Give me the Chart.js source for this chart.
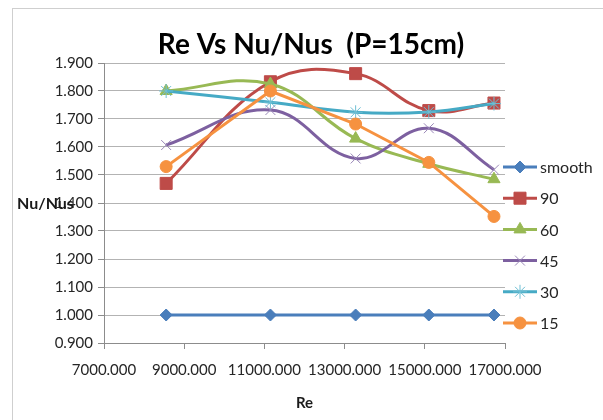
<!DOCTYPE html>
<html>
<head>
<meta charset="utf-8">
<script src="https://cdn.jsdelivr.net/npm/chart.js@4/dist/chart.umd.min.js"></script>
<style>
  html, body { margin: 0; padding: 0; background: #ffffff; }
  #wrap { width: 603px; height: 420px; position: relative; }
</style>
</head>
<body>
<div id="wrap"><canvas id="c" width="603" height="420"></canvas></div>
<script>
// Reynolds numbers of the five test runs
const reynolds = [8550, 11150, 13275, 15100, 16725];

// Nu/Nus ratio for each rib angle (P = 15 cm)
const smooth = [1.000, 1.000, 1.000, 1.000, 1.000];
const deg90  = [1.470, 1.833, 1.862, 1.730, 1.757];
const deg60  = [1.800, 1.825, 1.630, 1.540, 1.485];
const deg45  = [1.607, 1.732, 1.559, 1.667, 1.519];
const deg30  = [1.800, 1.760, 1.724, 1.725, 1.755];
const deg15  = [1.530, 1.800, 1.682, 1.545, 1.352];

// Axis tick values
const xTicks = [7000, 9000, 11000, 13000, 15000, 17000];
const yTicks = [0.9, 1.0, 1.1, 1.2, 1.3, 1.4, 1.5, 1.6, 1.7, 1.8, 1.9];

const TITLE = 'Re Vs Nu/Nus  (P=15cm)';
const FONT = "Lato, 'Open Sans', sans-serif";

function pts(values) {
  return reynolds.map((x, i) => ({ x: x, y: values[i] }));
}

function series(label, values, color, style, radius, tension, order, extra) {
  return Object.assign({
    label: label,
    data: pts(values),
    borderColor: color,
    backgroundColor: color,
    pointBackgroundColor: color,
    pointBorderColor: color,
    pointStyle: style,
    pointRadius: radius,
    pointHoverRadius: radius,
    pointBorderWidth: 1,
    borderWidth: 3,
    tension: tension,
    order: order,
    fill: false
  }, extra || {});
}

const datasets = [
  series('smooth', smooth, '#4A7EBB', 'rectRot', 6, 0, 5),
  series('90', deg90, '#BE4B48', 'rect', 8.5, 0.4, 4),
  series('60', deg60, '#98B954', 'triangle', 7, 0.4, 3),
  series('45', deg45, '#7D60A0', 'crossRot', 7, 0.4, 2, { pointBorderColor: '#9a88b8' }),
  series('30', deg30, '#46AAC5', 'star', 7, 0.4, 1, { pointBorderColor: '#6fbfd4' }),
  series('15', deg15, '#F69240', 'circle', 6, 0, 0)
];

// Outer frame of the chart object and the heading above the plot
const framePlugin = {
  id: 'frame',
  beforeDraw(chart) {
    const ctx = chart.ctx;
    ctx.save();
    ctx.fillStyle = '#ffffff';
    ctx.fillRect(0, 0, chart.width, chart.height);
    ctx.strokeStyle = '#cfcfcf';
    ctx.lineWidth = 1;
    ctx.strokeRect(12.5, 8.5, chart.width, chart.height);
    ctx.font = 'bold 28px ' + FONT;
    ctx.fillStyle = '#000000';
    ctx.textAlign = 'center';
    ctx.textBaseline = 'middle';
    ctx.fillText(TITLE, 311, 45);
    ctx.restore();
  }
};

// Horizontal y-axis title beside the tick labels
const yTitlePlugin = {
  id: 'yTitle',
  afterDraw(chart) {
    const ctx = chart.ctx;
    const y = chart.scales.y.getPixelForValue(1.4) + 1;
    ctx.save();
    ctx.font = 'bold 16px ' + FONT;
    ctx.fillStyle = '#1a1a1a';
    ctx.textAlign = 'left';
    ctx.textBaseline = 'middle';
    ctx.fillText('Nu/Nus', 17, y);
    ctx.restore();
  }
};

// Legend with a line segment and the series marker in its middle
const lineLegendPlugin = {
  id: 'lineLegend',
  afterDraw(chart, args, opts) {
    const ctx = chart.ctx;
    chart.data.datasets.forEach((ds, i) => {
      const y = opts.top + i * opts.step;
      ctx.save();
      ctx.strokeStyle = ds.borderColor;
      ctx.lineWidth = 3;
      ctx.beginPath();
      ctx.moveTo(opts.x, y);
      ctx.lineTo(opts.x + opts.lineLen, y);
      ctx.stroke();
      ctx.fillStyle = ds.pointBackgroundColor;
      ctx.strokeStyle = ds.pointBorderColor;
      ctx.lineWidth = 1;
      Chart.helpers.drawPoint(ctx, {
        pointStyle: ds.pointStyle,
        radius: ds.pointRadius,
        rotation: 0,
        borderWidth: 1
      }, opts.x + opts.lineLen / 2, y);
      ctx.font = '16px ' + FONT;
      ctx.fillStyle = '#262626';
      ctx.textAlign = 'left';
      ctx.textBaseline = 'middle';
      ctx.fillText(ds.label, opts.x + opts.lineLen + 3, y + 1);
      ctx.restore();
    });
  }
};

new Chart(document.getElementById('c'), {
  type: 'line',
  data: { datasets: datasets },
  plugins: [framePlugin, yTitlePlugin, lineLegendPlugin],
  options: {
    responsive: false,
    animation: false,
    events: [],
    layout: { padding: { left: 0, right: 98, top: 63, bottom: 0 } },
    plugins: {
      legend: { display: false },
      tooltip: { enabled: false },
      title: { display: false },
      lineLegend: { x: 503, top: 167, step: 31.2, lineLen: 34 }
    },
    scales: {
      x: {
        type: 'linear',
        min: 7000,
        max: 17000,
        afterBuildTicks(scale) { scale.ticks = xTicks.map(v => ({ value: v })); },
        afterFit(scale) { scale.height = 77; },
        ticks: {
          color: '#262626',
          font: { family: FONT, size: 15 },
          padding: 12,
          maxRotation: 0,
          autoSkip: false,
          callback: v => Number(v).toFixed(3)
        },
        grid: {
          drawOnChartArea: false,
          drawTicks: true,
          tickLength: 6,
          color: '#8c8c8c'
        },
        border: { display: true, color: '#8c8c8c', width: 1 },
        title: {
          display: true,
          text: 'Re',
          color: '#1a1a1a',
          font: { family: FONT, size: 15, weight: 'bold' },
          padding: { top: 10, bottom: 8 }
        }
      },
      y: {
        type: 'linear',
        min: 0.9,
        max: 1.9,
        afterBuildTicks(scale) { scale.ticks = yTicks.map(v => ({ value: v })); },
        afterFit(scale) { scale.width = 104; },
        ticks: {
          color: '#262626',
          font: { family: FONT, size: 15 },
          padding: 5,
          callback: v => Number(v).toFixed(3)
        },
        grid: {
          color: '#b3b3b3',
          lineWidth: 1,
          drawTicks: true,
          tickLength: 6,
          tickColor: '#8c8c8c'
        },
        border: { display: true, color: '#8c8c8c', width: 1 }
      }
    }
  }
});
</script>
</body>
</html>
